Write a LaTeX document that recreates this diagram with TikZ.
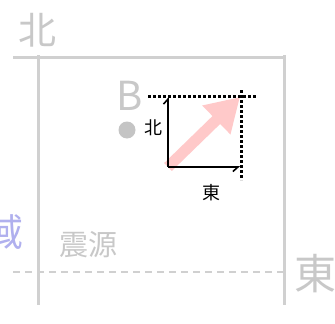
\documentclass[tikz,border=0pt]{standalone}
\usepackage{fontspec}
\usepackage{xcolor}
\newfontfamily\cjk{Noto Sans CJK JP}
\usetikzlibrary{arrows.meta}
\definecolor{gridGrey}{HTML}{D0D0D0}
\definecolor{labelGrey}{HTML}{C8C8C8}
\definecolor{dotGrey}{HTML}{C4C4C4}
\definecolor{arrowPink}{HTML}{FFC9C9}
\definecolor{areaBlue}{HTML}{B0B0EE}
\tikzset{
  bigLabel/.style={font=\cjk\fontsize{#1}{#1}\selectfont, text=labelGrey, inner sep=0pt},
  smallLabel/.style={font=\cjk\fontsize{18}{18}\selectfont, text=black, inner sep=0pt},
  gridLine/.style={draw=gridGrey, line width=3pt},
  gridDash/.style={draw=gridGrey, line width=2.5pt, dash pattern=on 7pt off 5pt},
  guideLine/.style={draw=black, line width=3pt, dash pattern=on 3pt off 2pt},
  compArrow/.style={draw=black, line width=1.6pt},
  moveArrow/.style={draw=arrowPink, line width=11pt,
    -{Triangle[length=33pt, width=38pt]}},
}

\begin{document}
\begin{tikzpicture}[x=1pt, y=-1pt]
    \clip (0,0) rectangle (335,324);
    \fill[white] (0,0) rectangle (335,324);
    % frame
    \coordinate (tl) at (13,57);
    \coordinate (tr) at (285,57);
    \coordinate (lt) at (38,55);
    \coordinate (lb) at (38,305);
    \coordinate (rt) at (284,55);
    \coordinate (rb) at (284,305);
    \coordinate (dl) at (13,272);
    \coordinate (dr) at (283,272);
    \draw[gridLine] (tl) -- (tr);
    \draw[gridLine] (lt) -- (lb);
    \draw[gridLine] (rt) -- (rb);
    \draw[gridDash] (dl) -- (dr);
    % labels
    \node[bigLabel=38] (north) at (37,30) {北};
    \node[bigLabel=42] (east) at (315,274) {東};
    \node[bigLabel=29] (source) at (88,245) {震源};
    \node[bigLabel=38, text=areaBlue] (area) at (4,232) {域};
    \node[bigLabel=40] (pointB) at (130,96) {B};
    \fill[dotGrey] (127,130) circle (8.5pt);
    % components
    \coordinate (o) at (168,167);
    \coordinate (n) at (168,97);
    \coordinate (e) at (240,167);
    \coordinate (ne) at (240,97);
    \coordinate (gw) at (148,96);
    \coordinate (ge) at (256,96);
    \coordinate (gn) at (241,90);
    \coordinate (gs) at (241,180);
    \draw[moveArrow] (o) -- (ne);
    \draw[guideLine] (gw) -- (ge);
    \draw[guideLine] (gn) -- (gs);
    \draw[compArrow, -{Straight Barb[left, length=5pt, width=9pt]}] (o) -- (n);
    \draw[compArrow, -{Straight Barb[right, length=5pt, width=9pt]}] (o) -- (e);
    \node[smallLabel] (nlab) at (153,128) {北};
    \node[smallLabel] (elab) at (211,193) {東};
\end{tikzpicture}
\end{document}
